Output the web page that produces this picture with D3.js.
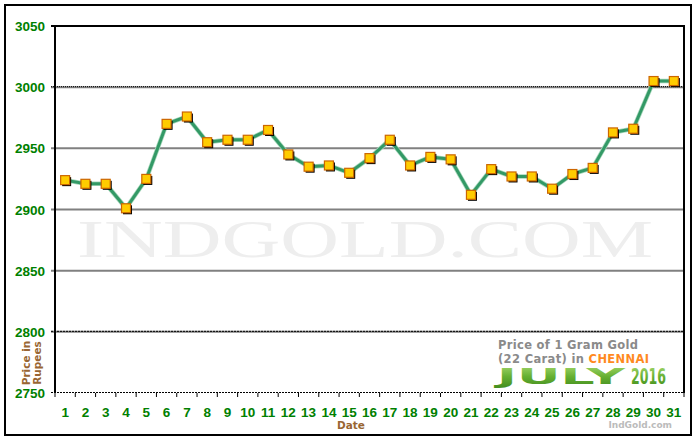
<!DOCTYPE html>
<html>
<head>
<meta charset="utf-8">
<style>
body { margin: 0; background: #fff; }
svg { display: block; }
.tick-label { font-family: "Liberation Sans", Arial, sans-serif; font-weight: bold; font-size: 13.5px; fill: #008000; }
.axis-title { font-family: "DejaVu Sans", Verdana, sans-serif; font-weight: bold; font-size: 10.5px; fill: #996633; }
</style>
</head>
<body>
<svg width="700" height="440"></svg>
<script src="https://d3js.org/d3.v7.min.js"></script>
<script>

var days = d3.range(1, 32);
var prices = [2924, 2921, 2921, 2901, 2925, 2970, 2976, 2955, 2957, 2957,
              2965, 2945, 2935, 2936, 2930, 2942, 2957, 2936, 2943, 2941,
              2912, 2933, 2927, 2927, 2917, 2929, 2934, 2963, 2966, 3005, 3005];
var yTicks = [2750, 2800, 2850, 2900, 2950, 3000, 3050];

var data = days.map(function(d, i) { return {day: d, price: prices[i]}; });

var svg = d3.select("svg"),
    plotL = 55, plotR = 684, plotT = 26, plotB = 393;

var x = d3.scaleLinear().domain([0.5, 31.5]).range([plotL, plotR]),
    y = d3.scaleLinear().domain([2750, 3050]).range([plotB, plotT]);

// outer frame
svg.append("rect")
    .attr("x", 5).attr("y", 5)
    .attr("width", 686).attr("height", 430)
    .attr("fill", "#fff")
    .attr("stroke", "#000")
    .attr("stroke-width", 2);

// watermark
svg.append("text")
    .attr("x", 77).attr("y", 257)
    .attr("textLength", 576)
    .attr("lengthAdjust", "spacingAndGlyphs")
    .style("font-family", "Liberation Serif, Times New Roman, serif")
    .style("font-size", "53px")
    .style("fill", "#eeeeee")
    .text("INDGOLD.COM");

// grid lines
var gridG = svg.append("g");
yTicks.forEach(function(v) {
  if (v === 3050) return;
  if (v !== 2750) {
    gridG.append("line")
        .attr("x1", plotL - 4).attr("x2", plotR)
        .attr("y1", y(v)).attr("y2", y(v))
        .attr("stroke", "#808080")
        .attr("stroke-width", 2);
  }
  if (v === 3000 || v === 2800 || v === 2750) {
    gridG.append("line")
        .attr("x1", plotL - 4).attr("x2", plotR)
        .attr("y1", y(v) - 0.5).attr("y2", y(v) - 0.5)
        .attr("stroke", "#000")
        .attr("stroke-width", 1)
        .attr("stroke-dasharray", v === 3000 ? "1,1" : "2,1");
  }
});

// plot border (top, left, right)
svg.append("path")
    .attr("d", "M" + plotL + "," + plotB + "V" + plotT + "H" + plotR + "V" + plotB)
    .attr("fill", "none")
    .attr("stroke", "#000")
    .attr("stroke-width", 2);
svg.append("line")
    .attr("x1", plotL - 4).attr("x2", plotL)
    .attr("y1", plotT).attr("y2", plotT)
    .attr("stroke", "#000").attr("stroke-width", 2);

// y tick labels
svg.append("g").selectAll("text")
    .data(yTicks)
  .enter().append("text")
    .attr("class", "tick-label")
    .attr("x", 45)
    .attr("y", function(d) { return y(d) + 5; })
    .attr("text-anchor", "end")
    .text(function(d) { return d; });

// x ticks at day boundaries
svg.append("g").selectAll("line")
    .data(d3.range(0.5, 32, 1))
  .enter().append("line")
    .attr("x1", function(d) { return x(d); })
    .attr("x2", function(d) { return x(d); })
    .attr("y1", plotB).attr("y2", plotB + 4)
    .attr("stroke", "#000");

svg.append("g").selectAll("text")
    .data(days)
  .enter().append("text")
    .attr("class", "tick-label")
    .attr("x", function(d) { return x(d); })
    .attr("y", 417)
    .attr("text-anchor", "middle")
    .text(function(d) { return d; });

// axis titles
svg.append("text")
    .attr("class", "axis-title")
    .attr("x", 351).attr("y", 429)
    .attr("text-anchor", "middle")
    .text("Date");

var yt = svg.append("text")
    .attr("class", "axis-title")
    .attr("transform", "translate(30,363) rotate(-90)")
    .attr("text-anchor", "middle");
yt.append("tspan").attr("x", 0).attr("dy", 0).text("Price in");
yt.append("tspan").attr("x", 0).attr("dy", 11).text("Rupees");

// line
var line = d3.line()
    .x(function(d) { return x(d.day); })
    .y(function(d) { return y(d.price); });

svg.append("path")
    .datum(data)
    .attr("d", line)
    .attr("fill", "none")
    .attr("stroke", "#a8d8bc")
    .attr("stroke-width", 4.5)
    .attr("stroke-linejoin", "round");
svg.append("path")
    .datum(data)
    .attr("d", line)
    .attr("fill", "none")
    .attr("stroke", "#339966")
    .attr("stroke-width", 3)
    .attr("stroke-linejoin", "round");

// markers with shadow
var m = svg.append("g").selectAll("g")
    .data(data)
  .enter().append("g")
    .attr("transform", function(d) { return "translate(" + x(d.day) + "," + y(d.price) + ")"; });
m.append("rect")
    .attr("x", -3).attr("y", -3)
    .attr("width", 9).attr("height", 9)
    .attr("fill", "#000");
m.append("rect")
    .attr("x", -4.5).attr("y", -4.5)
    .attr("width", 9).attr("height", 9)
    .attr("fill", "#ffcc00")
    .attr("stroke", "#cc6600")
    .attr("stroke-width", 1.2);

// logo
var grad = svg.append("defs").append("linearGradient")
    .attr("id", "green").attr("x1", 0).attr("y1", 0).attr("x2", 0).attr("y2", 1);
grad.append("stop").attr("offset", "0").attr("stop-color", "#a6d86e");
grad.append("stop").attr("offset", "0.5").attr("stop-color", "#66b032");
grad.append("stop").attr("offset", "1").attr("stop-color", "#3f8a1c");

svg.append("text")
    .attr("x", 498).attr("y", 349)
    .attr("textLength", 140)
    .style("font-family", "DejaVu Sans, Verdana, sans-serif")
    .style("font-weight", "bold").style("font-size", "11.5px")
    .style("fill", "#8a8a8a")
    .text("Price of 1 Gram Gold");

var l2 = svg.append("text")
    .attr("x", 498).attr("y", 363)
    .attr("textLength", 151)
    .style("font-family", "DejaVu Sans, Verdana, sans-serif")
    .style("font-weight", "bold").style("font-size", "11.5px")
    .style("fill", "#8a8a8a");
l2.append("tspan").text("(22 Carat) in ");
l2.append("tspan").style("fill", "#ff8a1f").text("CHENNAI");

svg.append("text")
    .attr("x", 497).attr("y", 384)
    .attr("textLength", 128)
    .attr("lengthAdjust", "spacingAndGlyphs")
    .style("font-family", "DejaVu Sans, Verdana, sans-serif")
    .style("font-weight", "bold").style("font-size", "22px")
    .style("fill", "url(#green)")
    .text("JULY");

svg.append("text")
    .attr("x", 631).attr("y", 384)
    .attr("textLength", 35)
    .attr("lengthAdjust", "spacingAndGlyphs")
    .style("font-family", "DejaVu Sans, Verdana, sans-serif")
    .style("font-weight", "bold").style("font-size", "21px")
    .style("fill", "url(#green)")
    .text("2016");

svg.append("text")
    .attr("x", 672).attr("y", 428)
    .attr("text-anchor", "end")
    .style("font-family", "DejaVu Sans, Verdana, sans-serif")
    .style("font-weight", "bold").style("font-size", "9px")
    .style("fill", "#bbbbbb")
    .text("IndGold.com");

</script>
</body>
</html>
